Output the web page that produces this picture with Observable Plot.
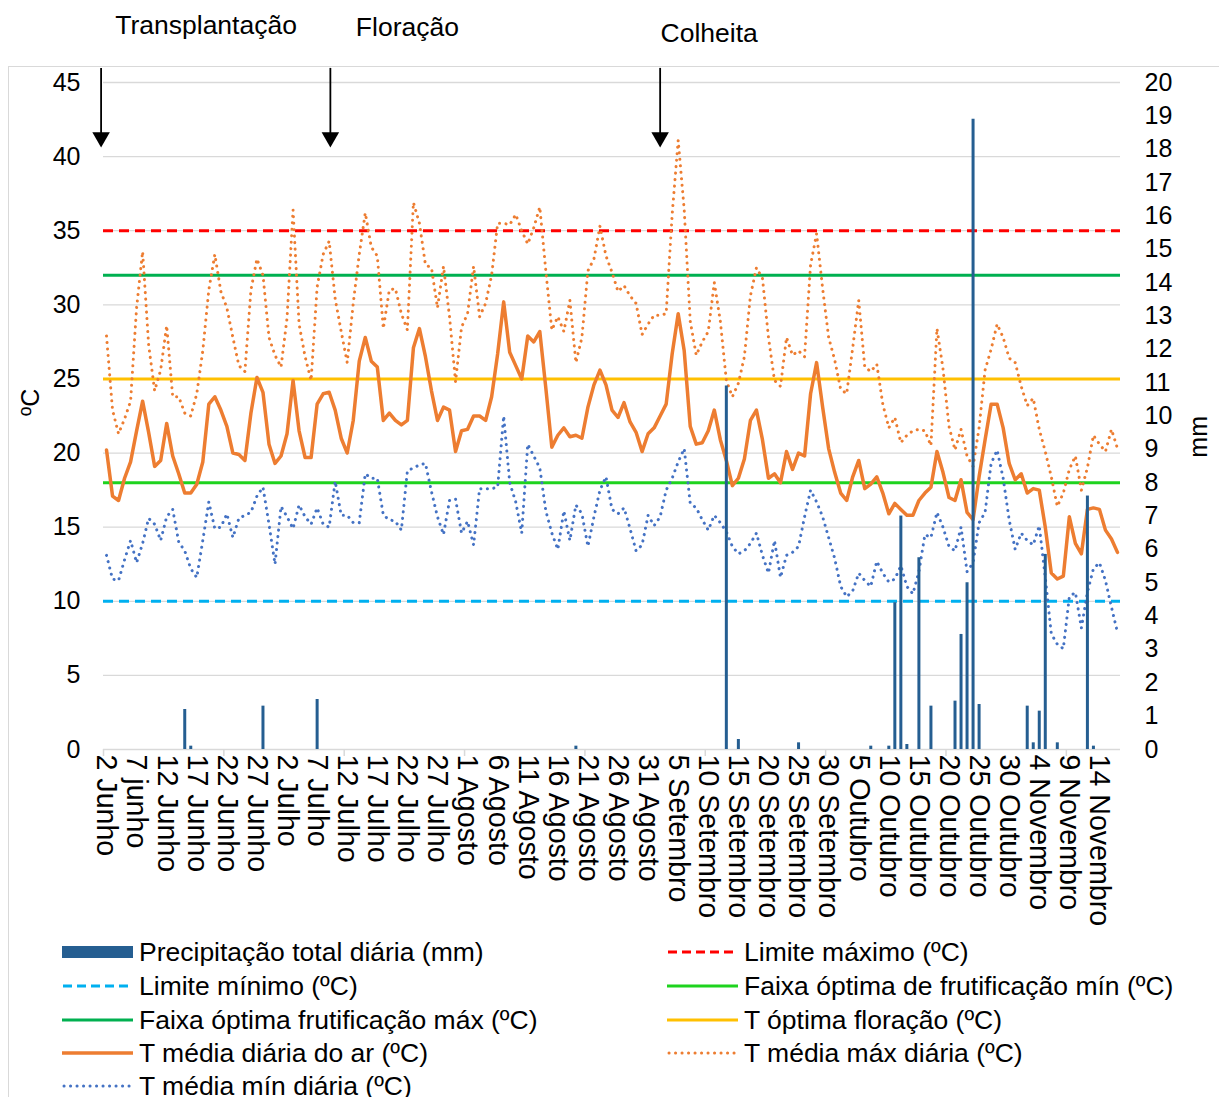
<!DOCTYPE html>
<html>
<head>
<meta charset="utf-8">
<script src="https://cdn.jsdelivr.net/npm/d3@7"></script>
<script src="https://cdn.jsdelivr.net/npm/@observablehq/plot@0.6"></script>
<style>
  html, body { margin: 0; padding: 0; background: #fff; overflow: hidden; }
  #wrap { position: relative; width: 1219px; height: 1097px; background: #fff; font-family: "Liberation Sans", Arial, sans-serif; color: #000; overflow: hidden; }
  #frame { position: absolute; left: 8px; top: 66px; width: 1300px; height: 1200px; border-left: 1.5px solid #d9d9d9; border-top: 1.5px solid #d9d9d9; box-sizing: border-box; }
  #chart { position: absolute; left: 0; top: 0; }
  #legend { position: absolute; left: 0; top: 935px; width: 1219px; height: 162px; }
  .item { position: absolute; display: flex; align-items: center; height: 32px; font-size: 26.5px; white-space: nowrap; }
  .item svg { margin-right: 5px; flex: none; }
</style>
</head>
<body>
<div id="wrap">
  <div id="frame"></div>
  <div id="chart"></div>
  <div id="legend"></div>
</div>
<script>
// ---- Data (daily, 2 Junho .. 17 Novembro) ----
const tMean = [20.2,17.1,16.8,18.3,19.4,21.5,23.5,21.4,19.1,19.5,22.0,19.8,18.6,17.3,17.3,17.9,19.4,23.3,23.8,22.9,
21.8,20.0,19.9,19.5,22.7,25.1,24.1,20.6,19.3,19.8,21.3,24.9,21.5,19.7,19.7,23.3,24.0,24.1,22.9,21.0,
20.0,22.2,26.2,27.8,26.2,25.8,22.2,22.7,22.2,21.9,22.2,27.1,28.4,26.5,24.2,22.2,23.1,22.9,20.1,21.5,
21.6,22.5,22.5,22.2,23.8,26.7,30.2,26.8,25.9,25.0,27.9,27.5,28.2,24.4,20.4,21.2,21.7,21.1,21.2,21.0,
23.1,24.6,25.6,24.6,22.9,22.4,23.4,22.1,21.4,20.1,21.3,21.7,22.5,23.3,26.7,29.4,26.9,21.8,20.6,20.7,
21.5,22.9,20.9,19.5,17.8,18.3,19.6,22.2,22.9,20.9,18.3,18.6,18.0,20.1,18.9,20.0,19.8,24.0,26.1,23.1,
20.3,18.7,17.3,16.8,18.4,19.5,17.6,17.9,18.4,17.3,15.9,16.6,16.2,15.8,15.8,16.8,17.3,17.7,20.1,18.7,
17.0,16.8,18.2,16.0,15.5,18.4,20.9,23.3,23.3,21.7,19.3,18.2,18.6,17.3,17.6,17.5,15.0,11.9,11.5,11.7,
15.7,13.9,13.2,16.2,16.3,16.2,14.8,14.2,13.3];

const tMax = [27.9,22.9,21.3,22.3,23.5,29.8,33.6,27.3,24.2,25.6,28.6,23.8,23.8,22.7,22.5,24.0,26.9,31.0,33.4,30.9,
29.8,27.8,25.9,25.5,31.0,33.1,32.0,27.8,26.6,25.8,29.1,36.4,28.7,26.5,24.9,31.2,33.4,34.3,30.4,28.2,
26.1,30.1,33.4,36.2,33.9,33.3,28.4,31.0,31.1,29.4,28.3,36.9,35.5,32.7,32.5,29.8,32.6,29.2,24.8,28.5,
29.4,32.6,29.2,30.1,32.0,35.5,35.5,35.4,36.1,35.0,34.1,35.2,36.6,32.3,28.3,29.2,28.2,30.3,26.1,27.8,
32.3,33.1,35.3,33.3,32.2,30.9,31.3,30.6,30.1,28.0,28.7,29.3,29.3,29.4,36.1,41.1,36.4,28.9,26.6,27.5,
28.2,31.5,28.9,24.9,23.8,24.7,26.5,30.6,32.5,31.8,27.8,24.9,24.5,27.8,26.6,26.9,26.5,32.7,34.8,31.1,
27.8,26.3,24.3,24.0,27.1,30.3,25.8,25.5,26.0,23.3,21.7,22.4,20.7,21.2,21.5,21.6,21.5,20.5,28.4,25.7,
21.8,20.2,21.6,19.8,19.1,21.7,25.6,27.0,28.7,27.8,26.4,26.1,24.5,23.2,23.7,21.6,20.1,18.4,16.4,17.3,
18.9,19.8,17.5,19.0,21.2,20.6,20.1,21.6,20.3];

const tMin = [13.1,11.5,11.4,12.8,14.1,12.6,13.9,15.6,15.2,14.1,15.7,16.2,14.0,13.4,12.2,11.6,14.1,16.7,14.9,15.0,
15.9,14.3,15.6,15.8,16.0,17.1,17.7,15.2,12.5,16.4,15.7,14.9,16.5,15.7,15.2,16.3,15.2,15.0,18.1,15.8,
15.8,15.3,15.3,18.6,18.3,18.3,15.8,15.5,15.4,14.8,18.8,19.0,19.2,19.3,17.4,15.7,14.5,16.8,16.9,14.6,
15.4,13.8,17.6,17.6,17.6,17.7,22.5,18.0,16.7,14.6,20.6,19.8,19.0,16.1,14.6,13.5,16.1,14.1,16.5,15.9,
13.7,15.7,17.5,18.4,16.2,15.9,16.3,14.9,13.4,13.8,15.8,15.1,15.7,17.5,18.3,19.4,20.3,16.6,16.3,15.5,
14.8,15.8,15.3,14.7,13.7,13.2,13.4,13.9,14.6,13.1,11.9,14.1,11.6,13.1,13.3,13.7,15.7,17.5,16.7,15.7,
14.3,12.9,11.0,10.3,10.7,11.9,11.4,11.0,12.7,11.9,11.3,11.5,12.4,11.0,10.5,12.0,14.5,14.3,16.0,15.0,
13.7,13.4,15.0,12.0,12.6,15.3,16.0,19.3,20.2,18.3,15.5,13.5,14.6,14.1,13.8,15.1,11.6,7.8,7.1,6.8,
10.3,10.6,8.2,10.6,12.2,12.6,11.4,9.6,7.9];

// precipitation (mm): day index (0 = 2 Junho) and amount
const rainDay = [13, 14, 26, 35, 78, 103, 105, 115, 127, 130, 131, 132, 133, 135, 137, 141, 142, 143, 144, 145, 153, 154, 155, 156, 158, 163, 164];
const rainMm  = [1.2, 0.1, 1.3, 1.5, 0.1, 10.9, 0.3, 0.2, 0.1, 0.1, 4.4, 7.0, 0.15, 5.75, 1.3, 1.45, 3.45, 5.0, 18.9, 1.35, 1.3, 0.2, 1.15, 5.85, 0.2, 7.6, 0.1];

// x tick labels every 5 days
const tickDays = d3.range(0, 166, 5);
const tickLabels = ["2 Junho","7 junho","12 Junho","17 Junho","22 Junho","27 Junho","2 Julho","7 Julho","12 Julho",
"17 Julho","22 Julho","27 Julho","1 Agosto","6 Agosto","11 Agosto","16 Agosto","21 Agosto","26 Agosto","31 Agosto",
"5 Setembro","10 Setembro","15 Setembro","20 Setembro","25 Setembro","30 Setembro","5 Outubro","10 Outubro",
"15 Outubro","20 Outubro","25 Outubro","30 Outubro","4 Novembro","9 Novembro","14 Novembro"];

// reference thresholds (ºC)
const limitNames = ["Limite máximo (ºC)","Limite mínimo (ºC)","Faixa óptima de frutificação mín (ºC)","Faixa óptima frutificação máx (ºC)","T óptima floração (ºC)"];
const limitValues = [35, 10, 18, 32, 25];

// phenological events (day index)
const eventNames = ["Transplantação", "Floração", "Colheita"];
const eventDays = [-0.9, 37.2, 92];

const tempTicks = d3.range(0, 46, 5);
const mmTicks = d3.range(0, 21, 1);
const mmToC = 45 / 20;

// ---- Build ----
const n = tMean.length;
const daily = d3.range(n).map(i => ({day: i, mean: tMean[i], max: tMax[i], min: tMin[i]}));
const rain = rainDay.map((d, i) => ({day: d, mm: rainMm[i]}));
const limits = limitNames.map((name, i) => ({name, value: limitValues[i]}));
const events = eventNames.map((name, i) => ({name, day: eventDays[i]}));

const C = {
  red: "#FF0000", cyan: "#00B0F0", lime: "#1ED31E", green: "#00B050", gold: "#FFC000",
  orange: "#ED7D31", blue: "#4472C4", bar: "#255E91", grid: "#D9D9D9"
};
const dashed = "10 6";
const dotDash = "0.1 6.4";
const limitStyle = {
  "Limite máximo (ºC)": {stroke: C.red, dash: dashed},
  "Limite mínimo (ºC)": {stroke: C.cyan, dash: dashed},
  "Faixa óptima de frutificação mín (ºC)": {stroke: C.lime, dash: null},
  "Faixa óptima frutificação máx (ºC)": {stroke: C.green, dash: null},
  "T óptima floração (ºC)": {stroke: C.gold, dash: null}
};
// event label offsets (px) relative to the arrow
const eventLabelDx = [105, 77, 49];
const eventLabelDy = [-57, -55, -49];

const chart = Plot.plot({
  width: 1219,
  height: 935,
  marginLeft: 103,
  marginRight: 99,
  marginTop: 82,
  marginBottom: 186,
  style: {fontFamily: "'Liberation Sans', Arial, sans-serif", fontSize: "25px", background: "none", color: "#000", overflow: "visible"},
  x: {domain: [-0.5, n - 0.5], axis: null},
  y: {domain: [0, 45], axis: null},
  marks: [
    Plot.ruleY(tempTicks.filter(d => d > 0), {stroke: C.grid, strokeWidth: 1.3}),
    Plot.ruleY([0], {stroke: C.grid, strokeWidth: 1.5}),
    // tick marks every 20 days
    Plot.axisX(d3.range(-0.5, n, 20), {tickSize: 7, stroke: C.grid, tickFormat: () => "", strokeWidth: 1.5, label: null}),
    // x labels
    Plot.axisX(tickDays, {tickSize: 0, tickPadding: 5, tickRotate: 90, tickFormat: (d, i) => tickLabels[i], fontSize: 28.6, label: null}),
    // left axis
    Plot.axisY(tempTicks, {anchor: "left", tickSize: 0, tickPadding: 23, fontSize: 25, label: null}),
    // right axis (mm)
    Plot.axisY(mmTicks.map(v => v * mmToC), {anchor: "right", tickSize: 0, tickPadding: 24, fontSize: 25, label: null, tickFormat: d => String(Math.round(d / mmToC))}),
    Plot.text(["ºC"], {frameAnchor: "left", dx: -73, rotate: -90, fontSize: 25}),
    Plot.text(["mm"], {frameAnchor: "right", dx: 78, rotate: -90, fontSize: 25}),
    // threshold lines
    ...limits.map(l => Plot.ruleY([l.value], {stroke: limitStyle[l.name].stroke, strokeWidth: 3, strokeDasharray: limitStyle[l.name].dash})),
    // temperature series
    Plot.line(daily, {x: "day", y: "mean", stroke: C.orange, strokeWidth: 3.5, strokeLinejoin: "round"}),
    Plot.line(daily, {x: "day", y: "max", stroke: C.orange, strokeWidth: 3, strokeDasharray: dotDash, strokeLinecap: "round"}),
    Plot.line(daily, {x: "day", y: "min", stroke: C.blue, strokeWidth: 3, strokeDasharray: dotDash, strokeLinecap: "round"}),
    // precipitation bars (secondary axis)
    Plot.ruleX(rain, {x: "day", y1: 0, y2: d => d.mm * mmToC, stroke: C.bar, strokeWidth: 3}),
    // event arrows
    Plot.ruleX(events, {x: "day", y1: 45.95, y2: 41.4, stroke: "#000", strokeWidth: 1.8}),
    Plot.dot(events, {x: "day", y: 41.3, symbol: "triangle", rotate: 180, r: 6.5, fill: "#000", stroke: "none"}),
    ...events.map((e, i) => Plot.text([e], {x: "day", frameAnchor: "top", text: "name", dx: eventLabelDx[i], dy: eventLabelDy[i] - 10, fontSize: 26.5}))
  ]
});
document.getElementById("chart").appendChild(chart);

// ---- Legend ----
const legendItems = [
  {label: "Precipitação total diária (mm)", kind: "bar", color: C.bar, col: 0, row: 0},
  {label: "Limite máximo (ºC)", kind: "dash", color: C.red, col: 1, row: 0},
  {label: "Limite mínimo (ºC)", kind: "dash", color: C.cyan, col: 0, row: 1},
  {label: "Faixa óptima de frutificação mín (ºC)", kind: "solid", color: C.lime, col: 1, row: 1},
  {label: "Faixa óptima frutificação máx (ºC)", kind: "solid", color: C.green, col: 0, row: 2},
  {label: "T óptima floração (ºC)", kind: "solid", color: C.gold, col: 1, row: 2},
  {label: "T média diária do ar (ºC)", kind: "solid", color: C.orange, col: 0, row: 3},
  {label: "T média máx diária (ºC)", kind: "dot", color: C.orange, col: 1, row: 3},
  {label: "T média mín diária (ºC)", kind: "dot", color: C.blue, col: 0, row: 4}
];
const colX = [62, 667];
const rowY = [1, 35, 69, 102, 135];
const legend = document.getElementById("legend");
for (const it of legendItems) {
  const div = document.createElement("div");
  div.className = "item";
  div.style.left = colX[it.col] + "px";
  div.style.top = rowY[it.row] + "px";
  let sym;
  if (it.kind === "bar") sym = `<rect x="0" y="10" width="71" height="12" fill="${it.color}"/>`;
  else if (it.kind === "dash") sym = `<line x1="1" x2="71" y1="16" y2="16" stroke="${it.color}" stroke-width="3" stroke-dasharray="9 5"/>`;
  else if (it.kind === "dot") sym = `<line x1="2" x2="71" y1="16" y2="16" stroke="${it.color}" stroke-width="3" stroke-dasharray="0.1 6.4" stroke-linecap="round"/>`;
  else sym = `<line x1="0" x2="71" y1="16" y2="16" stroke="${it.color}" stroke-width="${it.color === C.orange ? 3.5 : 3}"/>`;
  div.innerHTML = `<svg width="72" height="32">${sym}</svg><span>${it.label}</span>`;
  legend.appendChild(div);
}
</script>
</body>
</html>
